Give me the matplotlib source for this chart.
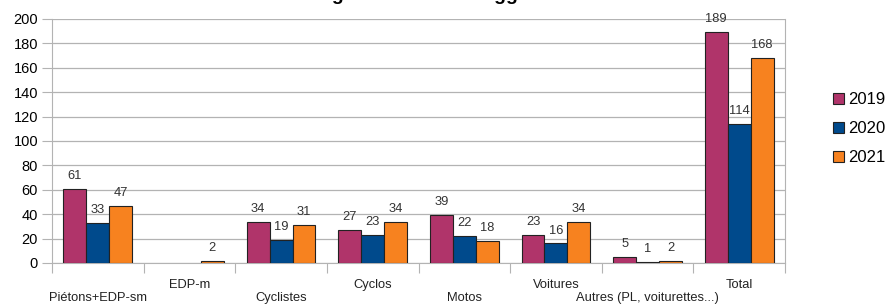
import numpy as np
import matplotlib
matplotlib.use("Agg")
import matplotlib.pyplot as plt
from matplotlib.transforms import blended_transform_factory

plt.rcParams["font.family"] = ["Liberation Sans", "DejaVu Sans"]

categories = ["Piétons+EDP-sm", "EDP-m", "Cyclistes", "Cyclos", "Motos",
              "Voitures", "Autres (PL, voiturettes...)", "Total"]
years = ["2019", "2020", "2021"]
v2019 = [61, np.nan, 34, 27, 39, 23, 5, 189]
v2020 = [33, np.nan, 19, 23, 22, 16, 1, 114]
v2021 = [47, 2, 31, 34, 18, 34, 2, 168]
COLORS = ["#b0346a", "#004a8c", "#f7821f"]

fig = plt.figure(figsize=(8.86, 3.04), dpi=100)
ax = fig.add_axes([52 / 886, 41 / 304, 733 / 886, 244 / 304])

x = np.arange(len(categories))
w = 0.25
for i, (vals, yr) in enumerate(zip([v2019, v2020, v2021], years)):
    pos = x + (i - 1) * w
    ax.bar(pos, vals, width=w, color=COLORS[i], edgecolor="#222222",
           linewidth=0.8, label=yr, zorder=3)
    for px, v in zip(pos, vals):
        if not np.isnan(v):
            ax.annotate(f"{int(v)}", (px, v), xytext=(0, 5), textcoords="offset points",
                        ha="center", va="bottom", fontsize=9.3, color="#333333")

ax.set_xlim(-0.5, len(categories) - 0.5)
ax.set_ylim(0, 200)
ax.set_yticks(range(0, 201, 20))
ax.tick_params(axis="y", labelsize=10.5, length=7, color="#b3b3b3", pad=3)
ax.grid(axis="y", color="#b3b3b3", linewidth=0.9, zorder=0)

# category separators as ticks, labels staggered by hand
ax.set_xticks(np.arange(-0.5, len(categories), 1))
ax.set_xticklabels([])
ax.tick_params(axis="x", length=7, color="#b3b3b3")
tr = blended_transform_factory(ax.transData, ax.transAxes)
for i, c in enumerate(categories):
    yy = -0.143 if i % 2 == 0 else -0.09
    ax.text(i, yy, c, transform=tr, ha="center", va="center", fontsize=9.3, color="#222222")

for s in ["left", "right", "bottom"]:
    ax.spines[s].set_color("#b3b3b3")
ax.spines["top"].set_visible(False)

leg = ax.legend(loc="center left", bbox_to_anchor=(1.045, 0.55), frameon=False,
                fontsize=12, handlelength=0.65, handleheight=0.65, handletextpad=0.25,
                labelspacing=0.85)

fig.text(0.515, 1.0, "Usagers blessés en agglomération", ha="center", va="baseline",
         fontsize=14, fontweight="bold")

fig.savefig("out.png", dpi=100)
